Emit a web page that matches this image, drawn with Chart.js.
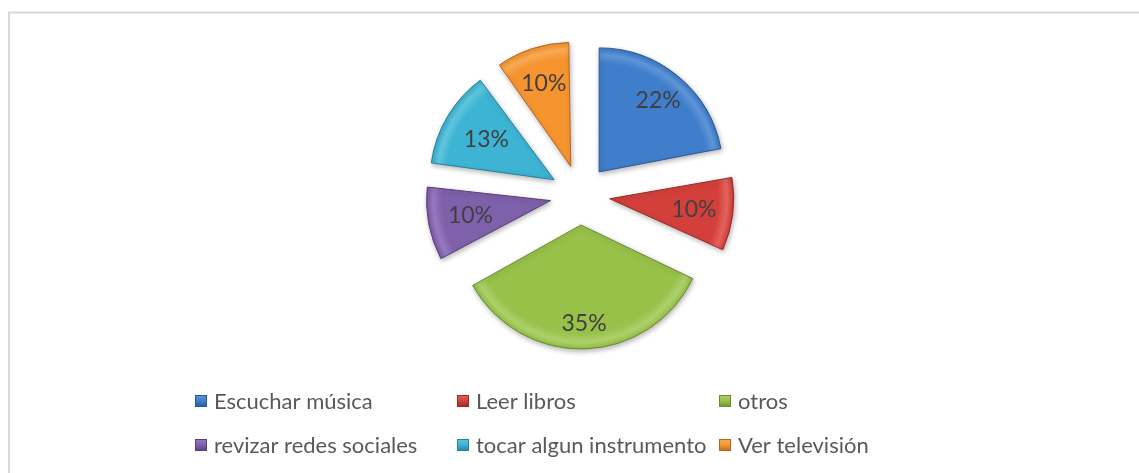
<!DOCTYPE html>
<html>
<head>
<meta charset="utf-8">
<script src="https://cdn.jsdelivr.net/npm/chart.js@4.4.1/dist/chart.umd.min.js"></script>
<style>
  html, body { margin: 0; padding: 0; background: #fff; }
  #wrap { width: 1139px; height: 473px; position: relative; }
</style>
</head>
<body>
<div id="wrap"><canvas id="graf"></canvas></div>
<script>
// datos del gráfico
const categorias = ['Escuchar música', 'Leer libros', 'otros', 'revizar redes sociales', 'tocar algun instrumento', 'Ver televisión'];
const porcentajes = [22, 10, 35, 10, 13, 10];

// colores (base / borde oscuro / brillo)
const colores = ['#3f7ecb', '#d3403b', '#98c14a', '#7f60ab', '#3db4d3', '#f6952f'];
const oscuros = ['#2b5a95', '#9a2a26', '#6c8d32', '#57407a', '#27829c', '#b8681b'];
const claros  = ['#5f95d8', '#e4625d', '#aed06c', '#9679c0', '#62c5df', '#f9ab55'];

const FUENTE = 'Lato, "Open Sans", sans-serif';

function relleno(ctx) {
  const chart = ctx.chart;
  const i = ctx.dataIndex;
  const a = chart.chartArea;
  if (!a) return colores[i];
  const cx = (a.left + a.right) / 2;
  const cy = (a.top + a.bottom) / 2;
  const g = chart.ctx.createRadialGradient(cx, cy, 0, cx, cy, 126);
  g.addColorStop(0, colores[i]);
  g.addColorStop(0.86, colores[i]);
  g.addColorStop(0.93, claros[i]);
  g.addColorStop(0.975, colores[i]);
  g.addColorStop(1, oscuros[i]);
  return g;
}

// marco gris del área del gráfico
const marco = {
  id: 'marco',
  beforeDraw(chart) {
    const ctx = chart.ctx;
    ctx.save();
    ctx.fillStyle = '#fff';
    ctx.fillRect(0, 0, chart.width, chart.height);
    ctx.strokeStyle = '#d9d9d9';
    ctx.lineWidth = 2;
    ctx.strokeRect(9, 12.5, 1300, 700);
    ctx.restore();
  }
};

// Chart.js agranda el radio de los sectores pequeños al usar offset; lo corregimos
const radioFijo = {
  id: 'radioFijo',
  beforeDatasetDraw(chart, args) {
    const meta = args.meta;
    const ctrl = meta.controller;
    meta.data.forEach(el => {
      const circ = el.endAngle - el.startAngle;
      const fix = 1 - Math.sin(Math.min(Math.PI, circ));
      el.outerRadius = ctrl.outerRadius - (el.options.offset / 4) * fix;
    });
    const ctx = chart.ctx;
    ctx.save();
    ctx.shadowColor = 'rgba(0,0,0,0.28)';
    ctx.shadowBlur = 5;
    ctx.shadowOffsetX = 1;
    ctx.shadowOffsetY = 2;
  },
  afterDatasetDraw(chart) {
    chart.ctx.restore();
  }
};

// etiquetas de porcentaje dentro de cada sector
const etiquetas = {
  id: 'etiquetas',
  afterDatasetsDraw(chart, args, opts) {
    const ctx = chart.ctx;
    const meta = chart.getDatasetMeta(0);
    const datos = chart.data.datasets[0].data;
    const total = datos.reduce((s, v) => s + v, 0);
    ctx.save();
    ctx.font = opts.font;
    ctx.fillStyle = '#404040';
    ctx.textAlign = 'center';
    ctx.textBaseline = 'middle';
    meta.data.forEach((el, i) => {
      const mid = (el.startAngle + el.endAngle) / 2;
      const d = el.options.offset / 4 + opts.dist[i] * el.outerRadius;
      const x = el.x + Math.cos(mid) * d;
      const y = el.y + Math.sin(mid) * d;
      ctx.fillText(Math.round(datos[i] / total * 100) + '%', x, y);
    });
    ctx.restore();
  }
};

// leyenda en columnas fijas, como en Excel
const leyenda = {
  id: 'leyenda',
  afterDraw(chart, args, opts) {
    const ctx = chart.ctx;
    ctx.save();
    ctx.font = opts.font;
    ctx.textBaseline = 'alphabetic';
    ctx.textAlign = 'left';
    chart.data.labels.forEach((txt, i) => {
      const col = i % opts.cols;
      const row = Math.floor(i / opts.cols);
      const x = opts.x + col * opts.colW;
      const y = opts.y + row * opts.rowH;
      const s = opts.box;
      const g = ctx.createLinearGradient(0, y, 0, y + s);
      g.addColorStop(0, claros[i]);
      g.addColorStop(0.5, colores[i]);
      g.addColorStop(1, oscuros[i]);
      ctx.fillStyle = g;
      ctx.fillRect(x, y, s, s);
      ctx.strokeStyle = oscuros[i];
      ctx.lineWidth = 1;
      ctx.strokeRect(x + 0.5, y + 0.5, s - 1, s - 1);
      ctx.fillStyle = '#595959';
      ctx.fillText(txt, x + s + 7, y + 14);
    });
    ctx.restore();
  }
};

new Chart(document.getElementById('graf'), {
  type: 'pie',
  data: {
    labels: categorias,
    datasets: [{
      data: porcentajes,
      backgroundColor: relleno,
      borderColor: oscuros,
      borderWidth: 1,
      offset: 120,
      radius: 124
    }]
  },
  options: {
    responsive: true,
    maintainAspectRatio: false,
    animation: false,
    events: [],
    layout: { padding: { left: 100, right: 79, top: 20, bottom: 103 } },
    plugins: {
      legend: { display: false },
      tooltip: { enabled: false },
      etiquetas: { font: '23px ' + FUENTE, dist: [0.75, 0.76, 0.83, 0.73, 0.68, 0.78] },
      leyenda: { font: '22px ' + FUENTE, x: 195, y: 395, colW: 262, rowH: 44, cols: 3, box: 12 }
    }
  },
  plugins: [marco, radioFijo, etiquetas, leyenda]
});
</script>
</body>
</html>
